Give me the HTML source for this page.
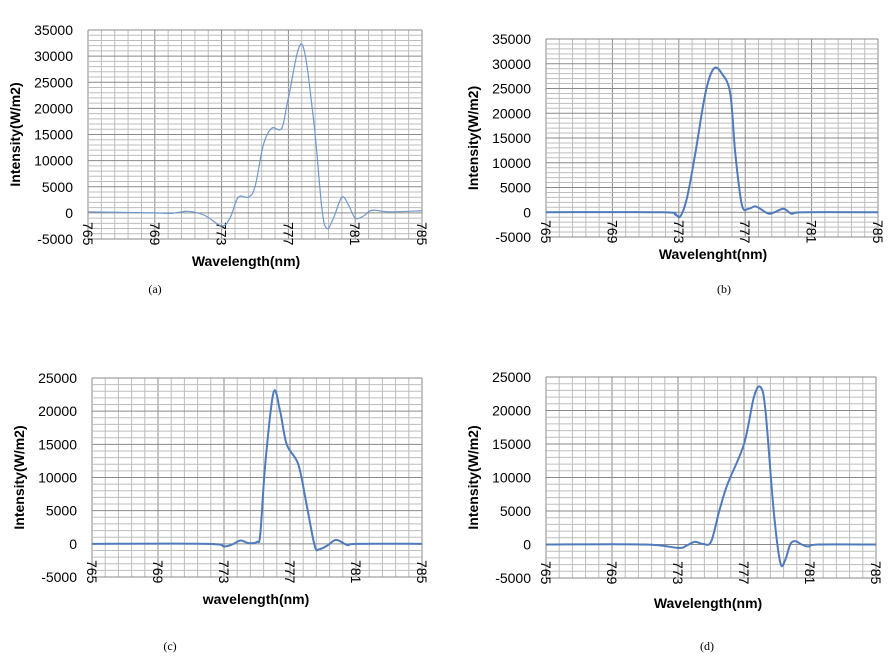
<!DOCTYPE html><html><head><style>body{margin:0;background:#fff}svg{font-family:"Liberation Sans",sans-serif}</style></head><body>
<svg id="s" width="893" height="665" xmlns="http://www.w3.org/2000/svg"></svg>
<script>
const S=document.getElementById('s');let h='';
function chart(o){const {x0,x1,yt,yb,ymax,ymin,pts,lw,col,xt,xtx,xty,lab,lx,ly}=o;
const X=v=>x0+(v-765)/20*(x1-x0), Y=v=>yt+(ymax-v)/(ymax-ymin)*(yb-yt);
for(let i=0;i<=25;i++){const x=x0+i*(x1-x0)/25;h+=`<line x1="${x}" y1="${yt}" x2="${x}" y2="${yb}" stroke="${i%5==0?'#8a8a8a':'#bdbdbd'}" stroke-width="1"/>`;}
const n=(ymax-ymin)/1000;
for(let i=0;i<=n;i++){const y=yt+i*(yb-yt)/n;h+=`<line x1="${x0}" y1="${y}" x2="${x1}" y2="${y}" stroke="${i%5==0?'#8a8a8a':'#bdbdbd'}" stroke-width="1"/>`;}
for(let v=ymax;v>=ymin;v-=5000)h+=`<text x="${x0-15}" y="${Y(v)+5}" font-size="14" text-anchor="end">${v}</text>`;
for(let v=765;v<=785;v+=4)h+=`<text transform="translate(${X(v)-5},${yb-17}) rotate(90)" font-size="14" fill="#000">${v}</text>`;
h+=`<text transform="translate(${x0-68},${(yt+yb)/2}) rotate(-90)" font-size="14" font-weight="bold" text-anchor="middle">Intensity(W/m2)</text>`;
h+=`<text x="${xtx}" y="${xty}" font-size="14" font-weight="bold" text-anchor="middle">${xt}</text>`;
h+=`<text x="${lx}" y="${ly}" font-size="12" font-family="Liberation Serif" text-anchor="middle">${lab}</text>`;
const P=pts.map(p=>[X(p[0]),Y(p[1])]);let d=`M${P[0][0]},${P[0][1]}`;
for(let i=0;i<P.length-1;i++){const p0=P[Math.max(0,i-1)],p1=P[i],p2=P[i+1],p3=P[Math.min(P.length-1,i+2)];
d+=`C${p1[0]+(p2[0]-p0[0])/6},${p1[1]+(p2[1]-p0[1])/6} ${p2[0]-(p3[0]-p1[0])/6},${p2[1]-(p3[1]-p1[1])/6} ${p2[0]},${p2[1]}`;}
h+=`<path d="${d}" fill="none" stroke="${col}" stroke-width="${lw}"/>`;}
chart({x0:88,x1:422,yt:30,yb:239,ymax:35000,ymin:-5000,lw:1.2,col:'#7098cc',xt:'Wavelength(nm)',xtx:246,xty:266,lab:'(a)',lx:155,ly:293,
pts:[[765,200],[769,0],[770,-100],[771,300],[772,-500],[773,-2500],[773.5,-1000],[774,3000],[774.6,3000],[775,5000],[775.5,13000],[776,16200],[776.6,16200],[777,22000],[777.8,32300],[778.5,18000],[779,1000],[779.3,-3000],[779.7,-1000],[780.2,3000],[780.6,1500],[781,-1000],[781.5,-600],[782,500],[783,200],[785,400]]});
chart({x0:546,x1:878,yt:39,yb:237,ymax:35000,ymin:-5000,lw:2,col:'#4f7bbd',xt:'Wavelenght(nm)',xtx:713,xty:259,lab:'(b)',lx:724,ly:293,
pts:[[765,0],[772,0],[772.8,-500],[773.1,-800],[773.5,3000],[774,12000],[774.6,24000],[775.1,29000],[775.6,28000],[776.1,24000],[776.4,12000],[776.8,1500],[777.2,700],[777.6,1200],[778,500],[778.5,-300],[779.3,700],[779.8,-300],[780.5,0],[785,0]]});
chart({x0:92,x1:422,yt:378,yb:577,ymax:25000,ymin:-5000,lw:2,col:'#4f7bbd',xt:'wavelength(nm)',xtx:256,xty:604,lab:'(c)',lx:170,ly:650,
pts:[[765,0],[772,0],[773,-400],[773.5,-100],[774,500],[774.5,100],[775,300],[775.2,1500],[775.5,12000],[776,22800],[776.4,20000],[776.8,15000],[777.5,12000],[778,6000],[778.5,-300],[778.8,-800],[779.3,-200],[779.8,600],[780.5,-200],[781,0],[785,0]]});
chart({x0:546,x1:876,yt:377,yb:578,ymax:25000,ymin:-5000,lw:2,col:'#4f7bbd',xt:'Wavelength(nm)',xtx:708,xty:608,lab:'(d)',lx:707,ly:650,
pts:[[765,0],[771,0],[773,-500],[773.5,-200],[774,400],[774.5,100],[775,400],[775.5,5000],[776,9000],[777,15000],[777.6,22000],[778,23500],[778.3,20000],[778.8,5000],[779.2,-2700],[779.5,-2300],[779.8,0],[780.1,500],[780.5,0],[780.9,-300],[781.5,0],[785,0]]});
S.innerHTML=h;
</script></body></html>
